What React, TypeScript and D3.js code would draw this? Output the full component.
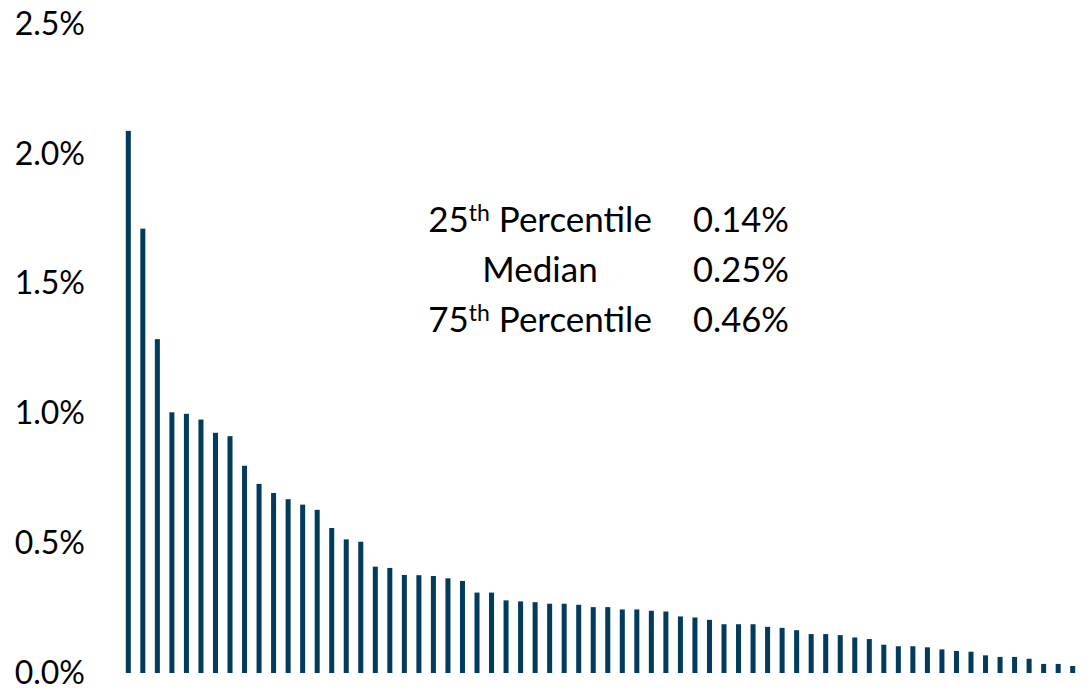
import React from "react";
import * as d3 from "d3";

const values: number[] = [
  2.09, 1.713, 1.287, 1.005, 0.999, 0.977, 0.926, 0.913, 0.799, 0.729, 0.694, 0.67, 0.649, 0.629, 0.559, 0.515, 0.506,
  0.41, 0.405, 0.378, 0.377, 0.374, 0.365, 0.355, 0.31, 0.31, 0.28, 0.276, 0.273, 0.267, 0.267, 0.263, 0.254, 0.254,
  0.245, 0.245, 0.24, 0.237, 0.218, 0.214, 0.205,
  0.188, 0.188, 0.188, 0.178, 0.174, 0.165, 0.15, 0.15, 0.146, 0.137, 0.131, 0.109, 0.103, 0.103, 0.099, 0.091,
  0.085, 0.082, 0.068, 0.062, 0.062, 0.055, 0.035, 0.035, 0.027,
];
const yTicks: number[] = [0, 0.5, 1.0, 1.5, 2.0, 2.5];
const statOrdinals: string[] = ["25", "", "75"];
const statLabels: string[] = ["Percentile", "Median", "Percentile"];
const statValues: string[] = ["0.14%", "0.25%", "0.46%"];

const W = 1083;
const H = 690;
const BAR = "#023b5c";
const FONT = "Lato, 'Open Sans', sans-serif";

export default function App() {
  const x = d3
    .scaleBand<number>()
    .domain(values.map((_, i) => i))
    .range([121, 1080])
    .paddingInner(0.655)
    .paddingOuter(0.33);
  const y = d3.scaleLinear().domain([0, 2.5]).range([673, 24.5]);

  return (
    <svg
      width={W}
      height={H}
      style={{ position: "absolute", left: 0, top: 0, background: "#fff" }}
      fontFamily={FONT}
    >
      {values.map((v, i) => (
        <rect
          key={i}
          x={x(i)}
          y={y(v)}
          width={x.bandwidth()}
          height={y(0) - y(v)}
          fill={BAR}
        />
      ))}
      {yTicks.map((t) => (
        <text
          key={t}
          x={85}
          y={y(t) + 10.5}
          textAnchor="end"
          fontSize={32}
          fill="#000"
        >
          {t.toFixed(1) + "%"}
        </text>
      ))}
      {statLabels.map((lab, i) => (
        <g key={i}>
          <text x={540} y={232 + i * 50} textAnchor="middle" fontSize={35} fill="#000">
            {statOrdinals[i] ? (
              <>
                {statOrdinals[i]}
                <tspan fontSize={23} dy={-11}>th</tspan>
                <tspan dy={11}>{" " + lab}</tspan>
              </>
            ) : (
              lab
            )}
          </text>
          <text x={741} y={232 + i * 50} textAnchor="middle" fontSize={34.5} fill="#000">
            {statValues[i]}
          </text>
        </g>
      ))}
    </svg>
  );
}
